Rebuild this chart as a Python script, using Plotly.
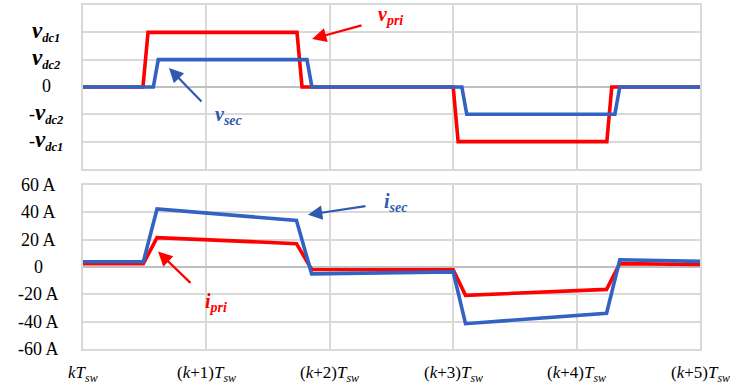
import plotly.graph_objects as go

# Time axis in switching periods (k .. k+5)
x_ticks = [0, 1, 2, 3, 4, 5]
x_ticktext = [
    "<i>kT</i><sub><i>sw</i></sub>",
    "(<i>k</i>+1)<i>T</i><sub><i>sw</i></sub>",
    "(<i>k</i>+2)<i>T</i><sub><i>sw</i></sub>",
    "(<i>k</i>+3)<i>T</i><sub><i>sw</i></sub>",
    "(<i>k</i>+4)<i>T</i><sub><i>sw</i></sub>",
    "(<i>k</i>+5)<i>T</i><sub><i>sw</i></sub>",
]

# Voltage levels (vdc1 = 2 units, vdc2 = 1 unit)
V = '<b><i><span style="font-size:23px">v</span></i></b>'
v_ticks = [2, 1, 0, -1, -2]
v_ticktext = [
    V + "<sub><b><i>dc1</i></b></sub>",
    V + "<sub><b><i>dc2</i></b></sub>",
    "0",
    "-" + V + "<sub><b><i>dc2</i></b></sub>",
    "-" + V + "<sub><b><i>dc1</i></b></sub>",
]

i_ticks = [60, 40, 20, 0, -20, -40, -60]
i_ticktext = ["60 A", "40 A", "20 A", "0", "-20 A", "-40 A", "-60 A"]

# Primary / secondary bridge voltages
t_vpri = [0, 0.486, 0.527, 1.734, 1.775, 3.0, 3.04, 4.245, 4.285, 5]
v_pri = [0, 0, 2, 2, 0, 0, -2, -2, 0, 0]

t_vsec = [0, 0.57, 0.61, 1.815, 1.855, 3.07, 3.11, 4.31, 4.35, 5]
v_sec = [0, 0, 1, 1, 0, 0, -1, -1, 0, 0]

# Primary / secondary currents (A)
t_ipri = [0, 0.489, 0.60, 1.73, 1.853, 3.0, 3.10, 4.243, 4.35, 5]
i_pri = [2.5, 2.5, 21.5, 17.1, -1.8, -2.0, -20.7, -16.4, 2.5, 1.8]

t_isec = [0, 0.489, 0.60, 1.73, 1.853, 3.0, 3.10, 4.243, 4.35, 5]
i_sec = [3.8, 3.8, 42.5, 34.0, -5.0, -3.6, -41.5, -33.8, 5.3, 4.1]

RED = "#ff0000"
BLUE = "#3262c2"
TXT_BLUE = "#2f5ab0"
GRID = "#d9d9d9"
SERIF = "Liberation Serif, Times New Roman, serif"

fig = go.Figure()
fig.add_trace(go.Scatter(x=t_vpri, y=v_pri, mode="lines",
                         line=dict(color=RED, width=3.6), xaxis="x", yaxis="y"))
fig.add_trace(go.Scatter(x=t_vsec, y=v_sec, mode="lines",
                         line=dict(color=BLUE, width=3.6), xaxis="x", yaxis="y"))
fig.add_trace(go.Scatter(x=t_ipri, y=i_pri, mode="lines",
                         line=dict(color=RED, width=3.6), xaxis="x2", yaxis="y2"))
fig.add_trace(go.Scatter(x=t_isec, y=i_sec, mode="lines",
                         line=dict(color=BLUE, width=3.6), xaxis="x2", yaxis="y2"))

axis_common = dict(showgrid=True, gridcolor=GRID, gridwidth=1.5,
                   showline=True, mirror=True, linecolor=GRID, linewidth=1.5,
                   zeroline=False, ticks="", automargin=False,
                   showticklabels=False)

fig.update_layout(
    width=730, height=386,
    margin=dict(l=83, r=30, t=5, b=37, autoexpand=False),
    paper_bgcolor="white", plot_bgcolor="white",
    showlegend=False,
    font=dict(family=SERIF, color="black"),
    xaxis=dict(domain=[0, 1], anchor="y", range=[0, 5], tickvals=x_ticks,
               **axis_common),
    yaxis=dict(domain=[0.5233, 1], anchor="x", range=[-3, 3],
               tickvals=v_ticks, **axis_common),
    xaxis2=dict(domain=[0, 1], anchor="y2", range=[0, 5], tickvals=x_ticks,
                **axis_common),
    yaxis2=dict(domain=[0, 0.4767], anchor="x2", range=[-60, 60],
                tickvals=i_ticks, **axis_common),
)

# Darker zero reference lines
fig.update_yaxes(zeroline=True, zerolinecolor="#bfbfbf", zerolinewidth=1.5)

# Time labels under the lower panel, at their axis positions
for val, txt in zip(x_ticks, x_ticktext):
    fig.add_annotation(x=val, y=0, xref="x2", yref="paper", text=txt,
                       showarrow=False, xanchor="center", yanchor="top",
                       yshift=-12,
                       font=dict(family=SERIF, size=17, color="black"))

# Centre-aligned y tick labels, placed at their axis values
for val, txt in zip(v_ticks, v_ticktext):
    fig.add_annotation(x=0, y=val, xref="paper", yref="y", text=txt,
                       showarrow=False, xanchor="center", yanchor="middle",
                       xshift=-37, yshift=1,
                       font=dict(family=SERIF, size=18, color="black"))
for val, txt in zip(i_ticks, i_ticktext):
    fig.add_annotation(x=0, y=val, xref="paper", yref="y2", text=txt,
                       showarrow=False, xanchor="center", yanchor="middle",
                       xshift=-45,
                       font=dict(family=SERIF, size=18, color="black"))


def pointer(xref, yref, x, y, ax, ay, color):
    fig.add_annotation(x=x, y=y, ax=ax, ay=ay, xref=xref, yref=yref,
                       axref=xref, ayref=yref, text="", showarrow=True,
                       arrowhead=2, arrowsize=1.3, arrowwidth=2.2,
                       arrowcolor=color, standoff=0)


def label(xref, yref, x, y, text, color):
    fig.add_annotation(x=x, y=y, xref=xref, yref=yref, text=text,
                       showarrow=False, xanchor="center", yanchor="middle",
                       font=dict(family=SERIF, size=20, color=color))


pointer("x", "y", 1.856, 1.756, 2.269, 2.269, RED)
label("x", "y", 2.49, 2.62, "<b><i>v</i></b><sub><b><i>pri</i></b></sub>", RED)

pointer("x", "y", 0.697, 0.695, 0.972, -0.585, TXT_BLUE)
label("x", "y", 1.183, -1.05, "<b><i>v</i></b><sub><b><i>sec</i></b></sub>", TXT_BLUE)

pointer("x2", "y2", 1.823, 38.2, 2.301, 44.7, TXT_BLUE)
label("x2", "y2", 2.536, 47.0, "<b><i>i</i></b><sub><b><i>sec</i></b></sub>", TXT_BLUE)

pointer("x2", "y2", 0.608, 11.3, 0.883, -12.7, RED)
label("x2", "y2", 1.078, -26.0, "<b><i>i</i></b><sub><b><i>pri</i></b></sub>", RED)

fig.write_html("out.html")
